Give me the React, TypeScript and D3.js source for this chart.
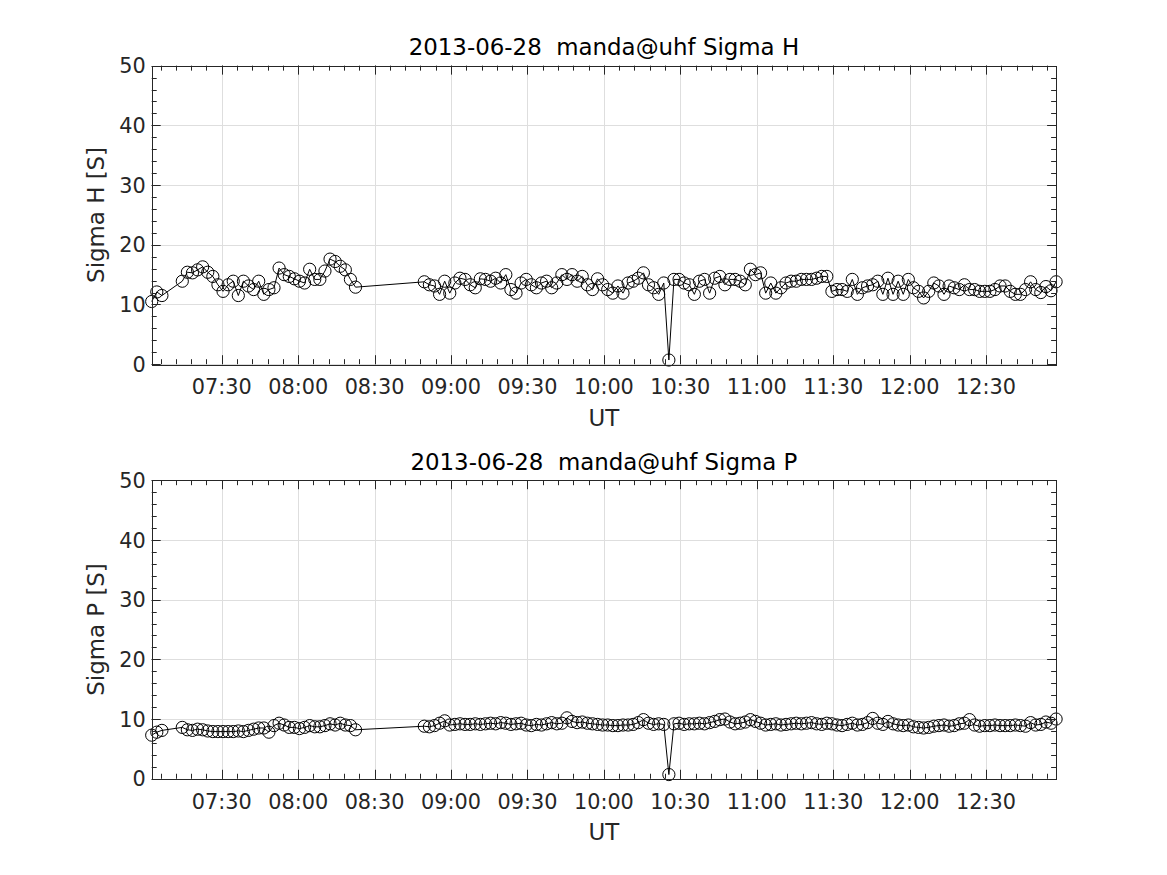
import React from 'react';
import * as d3 from 'd3';

const DAY = '2013-06-28';

const times = [
  '07:02:30','07:04:30','07:06:30',
  '07:14:30','07:16:30','07:18:30','07:20:30','07:22:30','07:24:30','07:26:30','07:28:30','07:30:30','07:32:30',
  '07:34:30','07:36:30','07:38:30','07:40:30','07:42:30','07:44:30','07:46:30','07:48:30','07:50:30','07:52:30',
  '07:54:30','07:56:30','07:58:30','08:00:30','08:02:30','08:04:30','08:06:30','08:08:30','08:10:30','08:12:30',
  '08:14:30','08:16:30','08:18:30','08:20:30','08:22:30',
  '08:49:30','08:51:30','08:53:30','08:55:30','08:57:30','08:59:30',
  '09:01:30','09:03:30','09:05:30','09:07:30','09:09:30','09:11:30','09:13:30','09:15:30','09:17:30','09:19:30',
  '09:21:30','09:23:30','09:25:30','09:27:30','09:29:30','09:31:30','09:33:30','09:35:30','09:37:30','09:39:30',
  '09:41:30','09:43:30','09:45:30','09:47:30','09:49:30','09:51:30','09:53:30','09:55:30','09:57:30','09:59:30',
  '10:01:30','10:03:30','10:05:30','10:07:30','10:09:30','10:11:30','10:13:30','10:15:30','10:17:30','10:19:30',
  '10:21:30','10:23:30','10:25:30','10:27:30','10:29:30','10:31:30','10:33:30','10:35:30','10:37:30','10:39:30',
  '10:41:30','10:43:30','10:45:30','10:47:30','10:49:30','10:51:30','10:53:30','10:55:30','10:57:30','10:59:30',
  '11:01:30','11:03:30','11:05:30','11:07:30','11:09:30','11:11:30','11:13:30','11:15:30','11:17:30','11:19:30',
  '11:21:30','11:23:30','11:25:30','11:27:30','11:29:30','11:31:30','11:33:30','11:35:30','11:37:30','11:39:30',
  '11:41:30','11:43:30','11:45:30','11:47:30','11:49:30','11:51:30','11:53:30','11:55:30','11:57:30','11:59:30',
  '12:01:30','12:03:30','12:05:30','12:07:30','12:09:30','12:11:30','12:13:30','12:15:30','12:17:30','12:19:30',
  '12:21:30','12:23:30','12:25:30','12:27:30','12:29:30','12:31:30','12:33:30','12:35:30','12:37:30','12:39:30',
  '12:41:30','12:43:30','12:45:30','12:47:30','12:49:30','12:51:30','12:53:30','12:55:30','12:57:30',
];

const sigmaH = [
  10.5, 12.1, 11.5,
  13.9, 15.4, 15.3, 15.8, 16.3, 15.4, 14.7, 13.3, 12.2, 13.3,
  13.9, 11.5, 13.9, 13.1, 12.5, 13.9, 11.7, 12.5, 12.8, 16.1,
  15.0, 14.7, 14.3, 13.9, 13.6, 15.9, 14.2, 14.2, 15.6, 17.6,
  17.2, 16.4, 15.8, 14.2, 12.9,
  13.8, 13.3, 13.1, 11.7, 13.9, 11.9,
  13.6, 14.4, 14.2, 13.3, 12.8, 14.3, 14.2, 13.9, 14.4, 13.6,
  15.0, 12.5, 11.9, 13.6, 14.2, 13.3, 12.8, 13.6, 13.9, 12.8,
  13.6, 15.0, 14.2, 15.0, 13.9, 14.7, 13.3, 12.5, 14.3, 13.3,
  12.5, 11.9, 13.1, 11.9, 13.6, 13.9, 14.4, 15.3, 13.3, 12.8,
  11.7, 13.6, 0.7, 14.2, 14.2, 13.6, 13.3, 11.7, 13.9,
  14.2, 11.9, 14.4, 14.7, 13.3, 14.2, 14.2, 13.9, 13.3, 15.9,
  15.0, 15.3, 11.9, 13.6, 11.9, 12.8, 13.6, 13.9, 13.9, 14.2,
  14.2, 14.2, 14.4, 14.7, 14.7, 12.2, 12.5, 12.5, 12.2, 14.2,
  11.7, 12.8, 13.1, 13.3, 13.9, 11.7, 14.4, 11.7, 13.9, 11.7,
  14.2, 12.8, 12.2, 11.1, 12.2, 13.6, 13.1, 11.7, 13.1, 12.8,
  12.5, 13.3, 12.5, 12.5, 12.2, 12.2, 12.2, 12.5, 13.1, 13.1,
  12.2, 11.7, 11.7, 12.5, 13.8, 12.5, 12.0, 13.0, 12.3, 13.8,
];

const sigmaP = [
  7.3, 7.8, 8.1,
  8.6, 8.2, 8.1, 8.3, 8.2, 8.0, 7.9, 7.9, 7.9, 7.9,
  7.9, 8.0, 7.9, 8.1, 8.3, 8.5, 8.5, 7.8, 8.9, 9.3,
  9.0, 8.6, 8.6, 8.4, 8.6, 8.9, 8.7, 8.7, 8.9, 9.2,
  9.0, 9.3, 9.0, 8.9, 8.2,
  8.8, 8.7, 8.9, 9.3, 9.7, 9.0,
  9.1, 9.2, 9.1, 9.1, 9.2, 9.1, 9.2, 9.3, 9.2, 9.4,
  9.3, 9.1, 9.2, 9.3, 9.0, 8.9, 9.1, 9.0, 9.2, 9.4,
  9.2, 9.3, 10.2, 9.6, 9.4, 9.5, 9.3, 9.2, 9.1, 9.0,
  9.0, 8.9, 8.9, 9.0, 9.0, 9.1, 9.4, 9.9, 9.3, 9.1,
  9.2, 9.1, 0.7, 9.2, 9.3, 9.1, 9.2, 9.2, 9.3, 9.2,
  9.4, 9.6, 9.9, 10.0, 9.5, 9.2, 9.3, 9.5, 9.9, 9.6,
  9.3, 9.0, 9.1, 9.2, 9.0, 9.1, 9.2, 9.3, 9.2, 9.3,
  9.4, 9.2, 9.1, 9.3, 9.2, 9.0, 8.9, 9.1, 9.3, 9.0,
  9.1, 9.4, 10.1, 9.3, 9.1, 9.6, 9.2, 9.0, 8.9, 9.0,
  8.7, 8.6, 8.5, 8.6, 8.8, 8.9, 9.0, 8.8, 8.9, 9.2,
  9.3, 9.9, 9.0, 8.8, 8.9, 8.9, 9.0, 8.9, 8.9, 8.9,
  9.0, 8.9, 8.8, 9.4, 9.0, 9.1, 9.5, 9.3, 10.0,
];

const xTickLabels = ['07:30','08:00','08:30','09:00','09:30','10:00','10:30','11:00','11:30','12:00','12:30'];
const yTicks = [0, 10, 20, 30, 40, 50];
const titles = ['2013-06-28  manda@uhf Sigma H', '2013-06-28  manda@uhf Sigma P'];
const yLabels = ['Sigma H [S]', 'Sigma P [S]'];
const xLabel = 'UT';

const FONT = '"DejaVu Sans", sans-serif';
const INK = '#262626';
const GRID = '#dedede';
const FIG_W = 1167, FIG_H = 875;
const AX_LEFT = 151.71, AX_RIGHT = 1056.1, AX_H = 298.55;
const PANEL_TOPS = [65.65, 480.2];
const TICK_FS = 20.8, LABEL_FS = 22.9;

const parse = d3.utcParse('%Y-%m-%d %H:%M:%S');
const dates = times.map((t) => parse(`${DAY} ${t}`) as Date);
const majorDates = xTickLabels.map((t) => parse(`${DAY} ${t}:00`) as Date);

function Panel({ top, values, title, ylabel }: { top: number; values: number[]; title: string; ylabel: string }) {
  const bottom = top + AX_H;
  const x = d3.scaleUtc().domain([dates[0], dates[dates.length - 1]]).range([AX_LEFT, AX_RIGHT]);
  const y = d3.scaleLinear().domain([0, 50]).range([bottom, top]);
  const minorX = d3.utcMinute.every(6)!.range(dates[0], dates[dates.length - 1]);
  const minorY = d3.range(0, 50.001, 2);
  const pts = values.map((v, i) => [dates[i], v] as [Date, number]).filter((p) => p[0]);
  const line = d3.line<[Date, number]>().x((p) => x(p[0])).y((p) => y(p[1]));
  const MAJ = 9, MIN = 5;
  const cx = (p: number) => Math.round(p) + 0.5;
  return (
    <g>
      {majorDates.map((d, i) => (
        <line key={'gx' + i} x1={cx(x(d))} x2={cx(x(d))} y1={top} y2={bottom} stroke={GRID} strokeWidth={1} />
      ))}
      {yTicks.map((v, i) => (
        <line key={'gy' + i} x1={AX_LEFT} x2={AX_RIGHT} y1={cx(y(v))} y2={cx(y(v))} stroke={GRID} strokeWidth={1} />
      ))}
      <path d={line(pts) || ''} fill="none" stroke="#000" strokeWidth={1} />
      {pts.map((p, i) => (
        <circle key={'c' + i} cx={x(p[0])} cy={y(p[1])} r={6.1} fill="none" stroke="#000" strokeWidth={1} />
      ))}
      <rect x={cx(AX_LEFT)} y={cx(top)} width={Math.round(AX_RIGHT - AX_LEFT)} height={Math.round(AX_H)} fill="none" stroke={INK} strokeWidth={1} />
      {minorX.map((d, i) => {
        const px = cx(x(d));
        return (
          <g key={'mx' + i}>
            <line x1={px} x2={px} y1={bottom} y2={bottom - MIN} stroke={INK} />
            <line x1={px} x2={px} y1={top} y2={top + MIN} stroke={INK} />
          </g>
        );
      })}
      {majorDates.map((d, i) => {
        const px = cx(x(d));
        return (
          <g key={'Mx' + i}>
            <line x1={px} x2={px} y1={bottom} y2={bottom - MAJ} stroke={INK} />
            <line x1={px} x2={px} y1={top} y2={top + MAJ} stroke={INK} />
            <text x={x(d)} y={bottom + 30} textAnchor="middle" fontSize={TICK_FS} fill={INK} fontFamily={FONT}>
              {xTickLabels[i]}
            </text>
          </g>
        );
      })}
      {minorY.map((v, i) => {
        const py = cx(y(v));
        return (
          <g key={'my' + i}>
            <line x1={AX_LEFT} x2={AX_LEFT + MIN} y1={py} y2={py} stroke={INK} />
            <line x1={AX_RIGHT} x2={AX_RIGHT - MIN} y1={py} y2={py} stroke={INK} />
          </g>
        );
      })}
      {yTicks.map((v, i) => {
        const py = cx(y(v));
        return (
          <g key={'My' + i}>
            <line x1={AX_LEFT} x2={AX_LEFT + MAJ} y1={py} y2={py} stroke={INK} />
            <line x1={AX_RIGHT} x2={AX_RIGHT - MAJ} y1={py} y2={py} stroke={INK} />
            <text x={AX_LEFT - 6} y={y(v) + 7.6} textAnchor="end" fontSize={TICK_FS} fill={INK} fontFamily={FONT}>
              {v}
            </text>
          </g>
        );
      })}
      <text x={(AX_LEFT + AX_RIGHT) / 2} y={top - 10.7} textAnchor="middle" fontSize={LABEL_FS} fill="#000" fontFamily={FONT} style={{ whiteSpace: 'pre' }}>
        {title}
      </text>
      <text x={(AX_LEFT + AX_RIGHT) / 2} y={bottom + 61.5} textAnchor="middle" fontSize={LABEL_FS} fill={INK} fontFamily={FONT}>
        {xLabel}
      </text>
      <text transform={`translate(104, ${(top + bottom) / 2}) rotate(-90)`} textAnchor="middle" fontSize={LABEL_FS} fill={INK} fontFamily={FONT}>
        {ylabel}
      </text>
    </g>
  );
}

export default function App() {
  const series = [sigmaH, sigmaP];
  return (
    <svg width={FIG_W} height={FIG_H} style={{ position: 'absolute', left: 0, top: 0, background: '#fff' }}>
      <rect width={FIG_W} height={FIG_H} fill="#fff" />
      {PANEL_TOPS.map((t, i) => (
        <Panel key={i} top={t} values={series[i]} title={titles[i]} ylabel={yLabels[i]} />
      ))}
    </svg>
  );
}
